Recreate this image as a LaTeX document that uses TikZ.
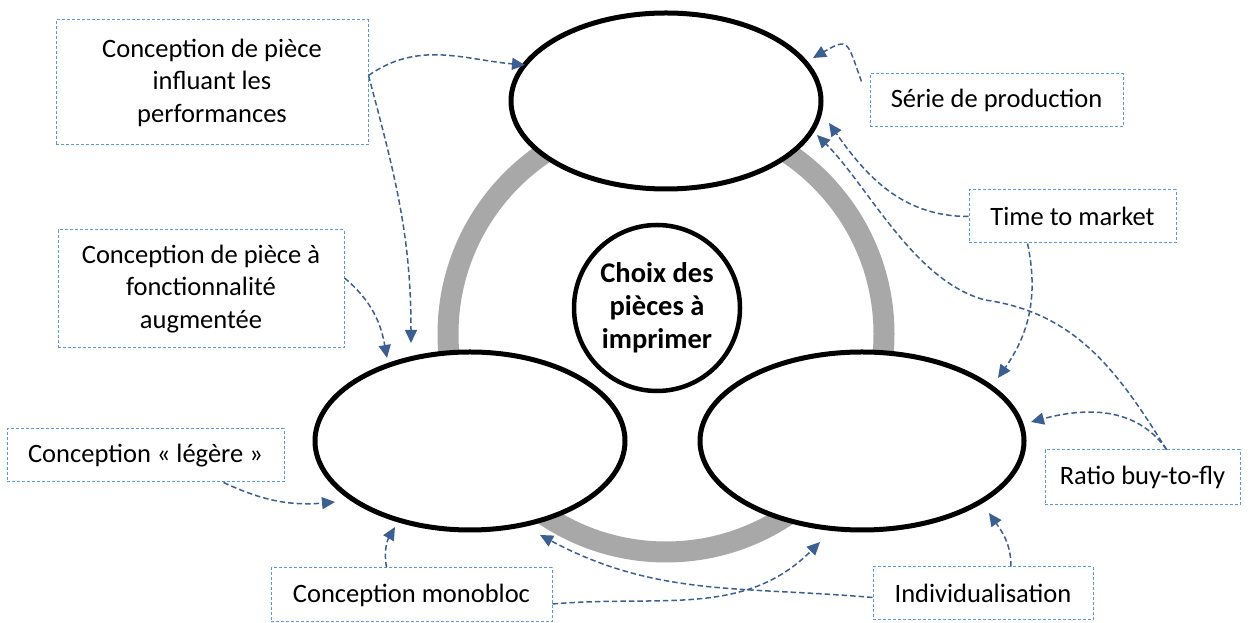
\documentclass[tikz,border=0pt]{standalone}
\usepackage{fontspec}
\setmainfont{Carlito}
\usetikzlibrary{arrows.meta,calc,shapes.geometric}
\definecolor{boxblue}{RGB}{91,155,213}
\definecolor{arrowblue}{RGB}{59,95,145}
\definecolor{ringgray}{RGB}{168,168,168}
\begin{document}
\begin{tikzpicture}[x=1pt,y=1pt,
  lbl/.style={draw=boxblue, dash pattern=on 3pt off 2pt, line width=1pt, align=center, inner sep=0pt, font=\fontsize{26.5}{32.5}\selectfont},
  oval/.style={ellipse, draw=black, line width=5pt, fill=white, inner sep=0pt},
  conn/.style={draw=arrowblue, line width=1.5pt, dash pattern=on 5.5pt off 3pt, -{Triangle[length=13pt,width=12pt]}}
]
\useasboundingbox (0,0) rectangle (1251,623);
\draw[ringgray, line width=21pt] (666,289) circle[radius=218];
\node[oval, minimum width=310pt, minimum height=176pt] (T) at (666,522) {};
\node[oval, minimum width=310pt, minimum height=178pt] (L) at (470,182) {};
\node[oval, minimum width=324pt, minimum height=178pt] (R) at (862,182) {};
\node[circle, draw=black, line width=4.5pt, fill=white, minimum size=166pt, inner sep=0pt, align=center, font=\bfseries\fontsize{28.5}{33}\selectfont] (C) at (657,315) {Choix des\\pièces à\\imprimer};

\node[lbl, minimum width=312pt, minimum height=125pt] (b1) at (212,540.5) {Conception de pièce\\influant les\\performances};
\node[lbl, minimum width=286pt, minimum height=118pt] (b2) at (201,334) {Conception de pièce à\\fonctionnalité\\augmentée};
\node[lbl, minimum width=253pt, minimum height=53pt] (bs) at (996.5,522.5) {Série de production};
\node[lbl, minimum width=207pt, minimum height=53pt] (bt) at (1072.5,406.5) {Time to market};
\node[lbl, minimum width=195pt, minimum height=55pt] (br) at (1142.5,145.5) {Ratio buy-to-fly};
\node[lbl, minimum width=220pt, minimum height=53pt] (bi) at (983,29.5) {Individualisation};
\node[lbl, minimum width=281pt, minimum height=54pt] (bm) at (411.5,28) {Conception monobloc};
\node[lbl, minimum width=277pt, minimum height=53pt] (bl) at (145.5,167.5) {Conception « légère »};

\draw[conn] ($(b1.east)+(0,7)$) to[out=35,in=175] ($(T.center)+(-141,36)$);
\draw[conn] ($(b1.east)+(0,7)$) to[out=-75,in=90] ($(L.center)+(-59,98)$);
\draw[conn] ($(b2.east)+(0,11)$) to[out=-40,in=100] ($(L.center)+(-83,83)$);
\draw[conn] ($(bs.north west)+(-8,-8)$) to[out=110,in=30,looseness=2] ($(T.center)+(147,43)$);
\draw[conn] (bt.west) to[out=180,in=-55] ($(T.center)+(163,-22)$);
\draw[conn] ($(bt.south)+(-45,0)$) to[out=-78,in=55] ($(R.center)+(136,63)$);
\draw[conn] ($(br.north)+(24,0)$) to[out=122,in=-8] (985,323) to[out=165,in=-45,looseness=0.8] ($(T.center)+(151,-34)$);
\draw[conn] ($(br.north)+(24,0)$) to[out=125,in=15] ($(R.center)+(169,19)$);
\draw[conn] ($(bi.north)+(28,0)$) to[out=90,in=-55] ($(R.center)+(127,-72)$);
\draw[conn] ($(bi.west)+(0,-4)$) to[out=175,in=-28] ($(L.center)+(70,-94)$);
\draw[conn] ($(bm.east)+(0,-9)$) to[out=5,in=-135] ($(R.center)+(-42,-101)$);
\draw[conn] ($(bm.north)+(-25,0)$) to[out=100,in=-120] ($(L.center)+(-75,-86)$);
\draw[conn] ($(bl.south)+(78,0)$) to[out=-25,in=185] ($(L.center)+(-135,-61)$);
\end{tikzpicture}
\end{document}
